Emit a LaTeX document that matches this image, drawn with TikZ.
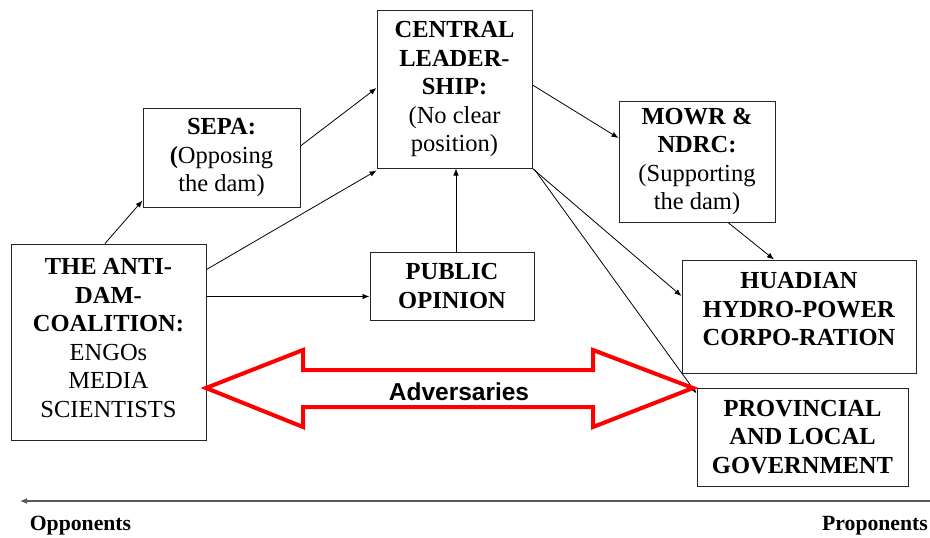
\documentclass[tikz,border=0pt]{standalone}
\usepackage{fontspec}
\setmainfont{Liberation Serif}
\newfontfamily\seriffont{Liberation Serif}
\newfontfamily\arialfont{Liberation Sans}
\usetikzlibrary{arrows.meta,calc}
\begin{document}
\begin{tikzpicture}[x=1pt,y=-1pt,
  every node/.style={font=\seriffont\fontsize{24.5}{28.5}\selectfont, align=center},
  box/.style={draw=black!85, line width=1pt, inner sep=0pt},
  conn/.style={draw=black, line width=0.8pt, -{Latex[length=7pt,width=5.5pt]}},
  axislbl/.style={font=\seriffont\fontsize{21.7}{26}\selectfont\bfseries},
  redarrow/.style={draw=red, line width=4pt, line join=miter}
]
\useasboundingbox (0,0) rectangle (930,538);

% boxes
\node[box, minimum width=155pt, minimum height=158pt] (central) at (454.5,89)
  {\textbf{CENTRAL}\\\textbf{LEADER-}\\\textbf{SHIP:}\\(No clear\\position)};
\node[box, minimum width=157pt, minimum height=99pt] (sepa) at (221.5,157.5)
  {\textbf{SEPA:}\\\textbf{(}Opposing\\the dam)};
\node[box, minimum width=156pt, minimum height=121pt] (mowr) at (697,161.5)
  {\textbf{MOWR \&}\\\textbf{NDRC:}\\(Supporting\\the dam)};
\node[box, minimum width=195pt, minimum height=196pt] (anti) at (108.5,342) {};
\node (antitxt) at (108.5,338)
  {\textbf{THE ANTI-}\\\textbf{DAM-}\\\textbf{COALITION:}\\ENGOs\\MEDIA\\SCIENTISTS};
\node[box, minimum width=164pt, minimum height=68pt] (public) at (452,286)
  {\textbf{PUBLIC}\\\textbf{OPINION}};
\node[box, minimum width=234pt, minimum height=113pt] (hua) at (799,316.5) {};
\node (huatxt) at (799,309.5)
  {\textbf{HUADIAN}\\\textbf{HYDRO-POWER}\\\textbf{CORPO-RATION}};
\node[box, minimum width=211pt, minimum height=98pt] (prov) at (802.5,437)
  {\textbf{PROVINCIAL}\\\textbf{AND LOCAL}\\\textbf{GOVERNMENT}};

% connectors
\draw[conn] ([xshift=-3.5pt]anti.north) -- ([yshift=7pt]sepa.south west);
\draw[conn] ([yshift=11.5pt]sepa.east) -- ([yshift=1pt]central.west);
\draw[conn] ([yshift=-26pt]anti.north east) -- ([yshift=-2pt]central.south west);
\coordinate (ap) at ([yshift=-53pt]anti.north east);
\draw[conn] (ap) -- (ap -| public.west);
\draw[conn] ([xshift=1.5pt]central.south |- public.north) -- ([xshift=1.5pt]central.south);
\draw[conn] ([yshift=4pt]central.east) -- ([yshift=23.5pt]mowr.west);
\draw[conn] ([xshift=31pt]mowr.south) -- ([xshift=-25pt]hua.north);
\draw[conn] (central.south east) -- ([yshift=20.5pt]hua.west);
\draw[conn] ([xshift=2pt,yshift=-1pt]central.south east) -- ([yshift=-6pt]prov.north west);

% adversaries double arrow
\draw[redarrow] (206,388) -- (303,350) -- (303,370) -- (593,370) -- (593,350)
  -- (693,388) -- (593,427) -- (593,407) -- (303,407) -- (303,427) -- cycle;
\node[font=\arialfont\fontsize{24.5}{28.5}\selectfont\bfseries] (adv) at (459,392) {Adversaries};

% axis
\coordinate (axR) at (930,501);
\coordinate (axL) at (20,501);
\draw[draw=black!65, line width=1.2pt, -{Latex[length=7pt,width=6pt]}] (axR) -- (axL);
\node[axislbl] (opp) at (80.5,526) {Opponents};
\node[axislbl] (pro) at (875,526) {Proponents};
\end{tikzpicture}
\end{document}
